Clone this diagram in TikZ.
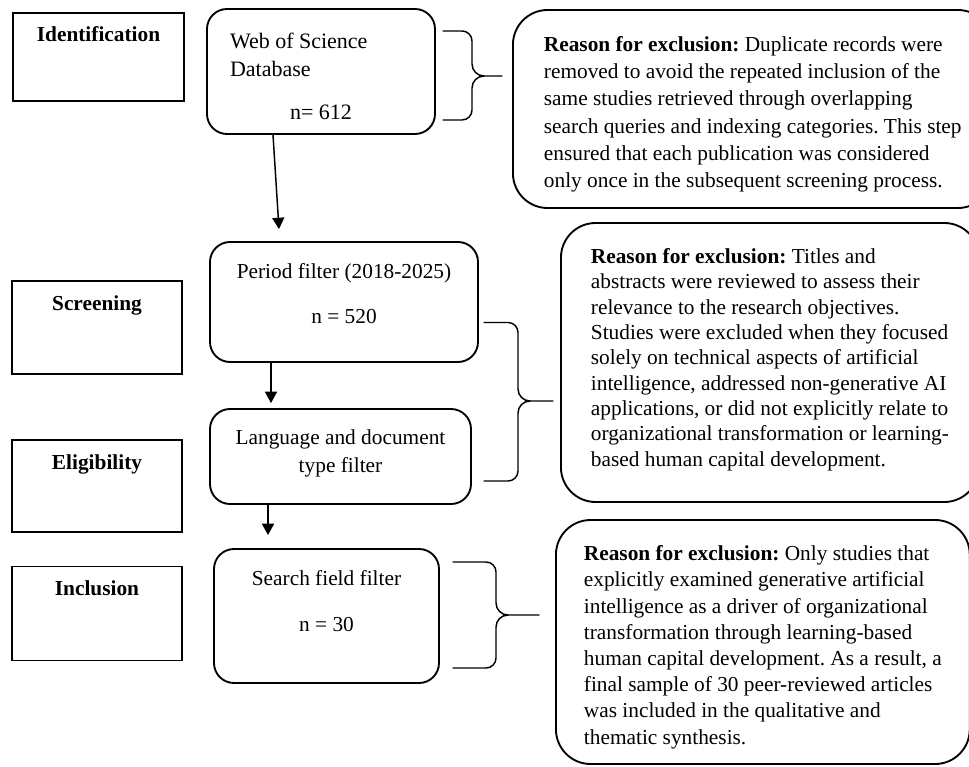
\documentclass[tikz,border=0pt]{standalone}
\usepackage{fontspec}
\setmainfont{Liberation Serif}
\usetikzlibrary{arrows.meta,calc}
\frenchspacing

\begin{document}
\begin{tikzpicture}[x=0.75pt,y=-0.75pt,
  stage/.style={draw, line width=0.8pt, inner xsep=0pt, inner ysep=0pt, minimum width=127.5pt,
    text height=21.75pt, font=\fontsize{16}{19}\selectfont\bfseries},
  filterbox/.style={draw, line width=1.4pt, rounded corners=15pt, inner xsep=10pt, inner ysep=0pt,
    align=flush center, font=\fontsize{16}{20.5}\selectfont},
  reason/.style={draw, line width=1.4pt, rounded corners=26pt, inner ysep=0pt, align=left, anchor=west},
  flow/.style={line width=1.1pt, -{Triangle[length=8.5pt,width=9pt]}},
  bracket/.style={line width=1.1pt, line cap=round}]
\useasboundingbox (0,0) rectangle (969,766);

% stage labels
\node[stage, minimum width=128.25pt, text depth=44.25pt] (ident) at (98.5,57) {Identification};
\node[stage, text depth=48pt] (screen) at (97,327.5) {Screening};
\node[stage, text depth=47.25pt] (elig) at (97,486) {Eligibility};
\node[stage, text depth=48.75pt] (incl) at (97,613.5) {Inclusion};

% filter boxes
\node[filterbox, align=flush left, inner xsep=17.25pt, text width=136.5pt, text height=30pt, text depth=63.75pt,
  font=\fontsize{16.5}{20.5}\selectfont]
  (wos) at (321,71.5) {Web of Science\\Database\\[12pt]\makebox[\linewidth]{n= 612}};
\node[filterbox, text width=181pt, text height=27pt, text depth=63pt]
  (period) at (344,302) {Period filter (2018-2025)\\[13.5pt]n = 520};
\node[filterbox, text width=175.75pt, text height=26.25pt, text depth=45pt, font=\fontsize{16}{21}\selectfont]
  (lang) at (340.5,456.5) {Language and document\\type filter};
\node[filterbox, text width=148.75pt, text height=27pt, text depth=73.5pt]
  (search) at (326.5,616) {Search field filter\\[14pt]n = 30};

% exclusion reasons
\node[reason, inner xsep=23.25pt, text height=133.5pt, text depth=15pt, font=\fontsize{16}{20.5}\selectfont]
  (why1) at (512,109)
  {\textbf{Reason for exclusion:} Duplicate records were\\
   removed to avoid the repeated inclusion of the\\
   same studies retrieved through overlapping\\
   search queries and indexing categories. This step\\
   ensured that each publication was considered\\
   only once in the subsequent screening process.};
\node[reason, inner xsep=22.5pt, text height=182.25pt, text depth=27pt, font=\fontsize{16}{19}\selectfont]
  (why2) at (560,362.5)
  {\textbf{Reason for exclusion:} Titles and\\
   abstracts were reviewed to assess their\\
   relevance to the research objectives.\\
   Studies were excluded when they focused\\
   solely on technical aspects of artificial\\
   intelligence, addressed non-generative AI\\
   applications, or did not explicitly relate to\\
   organizational transformation or learning-\\
   based human capital development.};
\node[reason, inner xsep=21pt, text height=168pt, text depth=15pt, font=\fontsize{16}{19.65}\selectfont]
  (why3) at (555,642)
  {\textbf{Reason for exclusion:} Only studies that\\
   explicitly examined generative artificial\\
   intelligence as a driver of organizational\\
   transformation through learning-based\\
   human capital development. As a result, a\\
   final sample of 30 peer-reviewed articles\\
   was included in the qualitative and\\
   thematic synthesis.};

% flow arrows
\draw[flow] ($(wos.south)+(-48,0)$) -- ($(period.north)+(-65,-12)$);
\draw[flow] ($(period.south)+(-73,0)$) -- ($(lang.north)+(-69.5,-5)$);
\draw[flow] ($(lang.south)+(-72.5,0)$) -- ($(search.north)+(-58.5,-13)$);

% braces
\draw[bracket] (443,31) -- (462,31) to[out=0,in=90] (472,41) -- (472,64) to[out=-90,in=180] (484,76) -- (502,76);
\draw[bracket] (443,120) -- (462,120) to[out=0,in=-90] (472,110) -- (472,88) to[out=90,in=180] (484,76);
\draw[bracket] (484,322.5) -- (508,322.5) to[out=0,in=90] (518,332.5) -- (518,389) to[out=-90,in=180] (530,401) -- (553,401);
\draw[bracket] (484,481) -- (508,481) to[out=0,in=-90] (518,471) -- (518,413) to[out=90,in=180] (530,401);
\draw[bracket] (453,562) -- (486,562) to[out=0,in=90] (496,572) -- (496,603) to[out=-90,in=180] (508,615) -- (539,615);
\draw[bracket] (453,668) -- (486,668) to[out=0,in=-90] (496,658) -- (496,627) to[out=90,in=180] (508,615);
\end{tikzpicture}
\end{document}
